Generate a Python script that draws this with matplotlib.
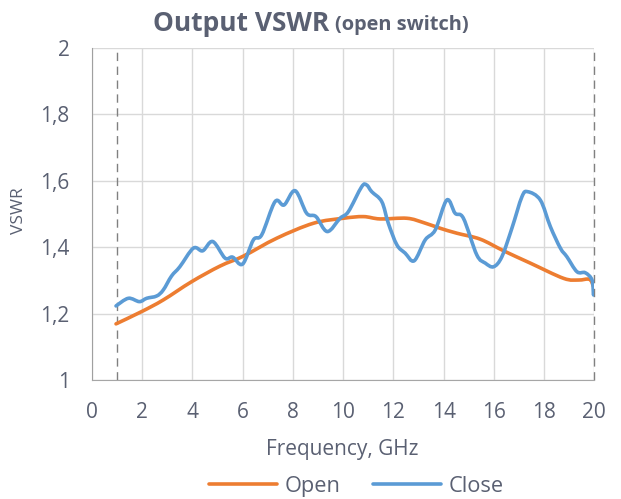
import matplotlib.pyplot as plt
import numpy as np
from matplotlib.path import Path
from matplotlib.patches import PathPatch
from matplotlib.lines import Line2D
from matplotlib.ticker import FuncFormatter

plt.rcParams['font.family'] = ['Open Sans', 'DejaVu Sans']

# Data
open_freq = [0.96, 1.98, 2.84, 3.97, 5.1, 6.03, 7.36, 8.82, 10.01, 10.81, 11.47,
             12.54, 13.2, 13.86, 14.53, 15.46, 16.39, 17.45, 18.78, 19.37, 19.81, 19.97]
open_vswr = [1.169, 1.206, 1.241, 1.296, 1.343, 1.373, 1.427, 1.472, 1.487, 1.492, 1.485,
             1.487, 1.474, 1.457, 1.442, 1.424, 1.389, 1.352, 1.306, 1.301, 1.303, 1.281]

close_freq = [0.96, 1.45, 1.89, 2.18, 2.58, 2.84, 3.17, 3.5, 4.04, 4.41, 4.81, 5.3, 5.6,
              6.0, 6.43, 6.76, 7.29, 7.65, 8.09, 8.55, 8.92, 9.37, 9.88, 10.21, 10.74,
              10.94, 11.14, 11.54, 11.8, 12.14, 12.47, 12.83, 13.27, 13.67, 14.13, 14.46,
              14.79, 15.32, 15.66, 15.99, 16.32, 16.72, 17.12, 17.35, 17.85, 18.25, 18.65,
              18.91, 19.31, 19.64, 19.91, 19.97, 20.0]
close_vswr = [1.223, 1.246, 1.236, 1.246, 1.253, 1.271, 1.313, 1.341, 1.397, 1.389, 1.417,
              1.367, 1.370, 1.349, 1.422, 1.437, 1.537, 1.527, 1.570, 1.502, 1.492, 1.447,
              1.487, 1.507, 1.582, 1.587, 1.567, 1.537, 1.472, 1.407, 1.382, 1.359, 1.422,
              1.452, 1.542, 1.502, 1.487, 1.377, 1.352, 1.341, 1.371, 1.457, 1.552, 1.567,
              1.542, 1.462, 1.397, 1.371, 1.326, 1.323, 1.301, 1.256, 1.28]

x_ticks = list(range(0, 21, 2))
y_ticks = [1.0, 1.2, 1.4, 1.6, 1.8, 2.0]

text_color = '#5a6072'
open_color = '#ED7D31'
close_color = '#5B9BD5'


def smooth_path(xs, ys):
    # Excel-style smoothed line: Bezier segments through the data points
    p = np.column_stack([xs, ys])
    verts = [p[0]]
    codes = [Path.MOVETO]
    n = len(p)
    for i in range(n - 1):
        p0 = p[max(i - 1, 0)]
        p1 = p[i]
        p2 = p[i + 1]
        p3 = p[min(i + 2, n - 1)]
        verts += [p1 + (p2 - p0) / 6, p2 - (p3 - p1) / 6, p2]
        codes += [Path.CURVE4] * 3
    return Path(verts, codes)


fig = plt.figure(figsize=(6.21, 4.99), dpi=100)
ax = fig.add_axes([0.148, 0.2385, 0.809, 0.6655])

ax.add_patch(PathPatch(smooth_path(open_freq, open_vswr), fill=False, edgecolor=open_color,
                       linewidth=2.6, capstyle='round', joinstyle='round', zorder=3))
ax.add_patch(PathPatch(smooth_path(close_freq, close_vswr), fill=False, edgecolor=close_color,
                       linewidth=2.6, capstyle='round', joinstyle='round', zorder=4))

for f in [1, 20]:
    ax.axvline(f, color='#808080', linestyle=(0, (6, 4)), linewidth=1.0, zorder=2,
               clip_on=False)

ax.set_xlim(0, 20)
ax.set_ylim(1, 2)
ax.set_xticks(x_ticks)
ax.set_yticks(y_ticks)
ax.yaxis.set_major_formatter(FuncFormatter(lambda v, p: ('%g' % v).replace('.', ',')))
ax.grid(True, color='#d9d9d9', linewidth=1.0)
ax.set_axisbelow(True)

for side in ['top', 'right']:
    ax.spines[side].set_visible(False)
ax.spines['left'].set_color('#a0a0a0')
ax.spines['bottom'].set_color('#a6a6a6')
ax.tick_params(length=0, labelsize=15, colors=text_color, pad=16)

ax.set_xlabel('Frequency, GHz', fontsize=15, color=text_color, va='center')
ax.xaxis.set_label_coords(0.498, -0.208)
ax.set_ylabel('VSWR', fontsize=12.5, color=text_color, va='center')
ax.yaxis.set_label_coords(-0.145, 0.51)

fig.text(0.530, 0.953, 'Output VSWR', fontsize=19, fontweight='bold', color=text_color,
         ha='right', va='center')
fig.text(0.540, 0.950, '(open switch)', fontsize=14.4, fontweight='bold', color=text_color,
         ha='left', va='center')

handles = [Line2D([], [], color=open_color, linewidth=2.6, solid_capstyle='round'),
           Line2D([], [], color=close_color, linewidth=2.6, solid_capstyle='round')]
leg = fig.legend(handles, ['Open', 'Close'], loc='center', bbox_to_anchor=(0.574, 0.026),
                 ncol=2, frameon=False, fontsize=15.7, handlelength=3.1, columnspacing=1.5,
                 handletextpad=0.35, borderaxespad=0, borderpad=0)
for t in leg.get_texts():
    t.set_color(text_color)

fig.savefig('out.png', dpi=100)
